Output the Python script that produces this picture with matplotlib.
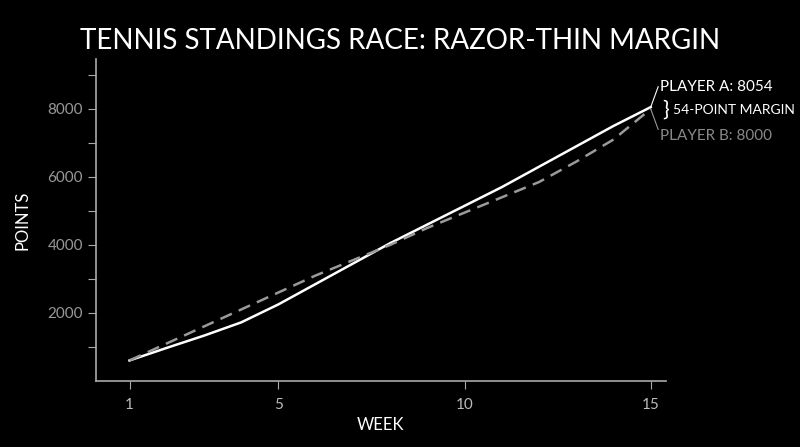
import matplotlib
matplotlib.use('Agg')
import matplotlib.pyplot as plt

plt.rcParams['font.family'] = ['Lato', 'DejaVu Sans']

weeks = list(range(1, 16))
player_a = [600, 970, 1330, 1720, 2250, 2850, 3450, 4050, 4600, 5150, 5700, 6300, 6900, 7500, 8054]
player_b = [600, 1100, 1600, 2100, 2600, 3100, 3550, 4000, 4500, 4950, 5400, 5850, 6450, 7100, 8000]
x_ticks = [1, 5, 10, 15]
y_ticks = [2000, 4000, 6000, 8000]

fig = plt.figure(figsize=(8, 4.47), dpi=100, facecolor='black')
ax = fig.add_axes([0.12, 0.148, 0.712, 0.72], facecolor='black')

ax.plot(weeks, player_a, color='white', lw=1.8)
ax.plot(weeks, player_b, color='#9a9a9a', lw=1.8, ls=(0, (5, 3)))

ax.set_xlim(0.1, 15.4)
ax.set_ylim(0, 9470)
ax.set_xticks(x_ticks)
ax.set_yticks(y_ticks)
ax.set_yticks(range(1000, 9001, 1000), minor=True)
ax.tick_params(colors='#aaaaaa', labelsize=11, length=6, width=0.8, direction='out')
ax.tick_params(axis='y', which='minor', colors='#aaaaaa', length=6, width=0.8)
ax.tick_params(axis='y', which='major', labelcolor='#999999')
ax.tick_params(axis='x', labelcolor='#bbbbbb', pad=6)
for s in ['top', 'right']:
    ax.spines[s].set_visible(False)
for s in ['left', 'bottom']:
    ax.spines[s].set_color('#aaaaaa')
    ax.spines[s].set_linewidth(1.2)

ax.set_xlabel('WEEK', color='white', fontsize=12, labelpad=4)
ax.set_ylabel('POINTS', color='white', fontsize=12, labelpad=12)
fig.text(0.5, 0.89, 'TENNIS STANDINGS RACE: RAZOR-THIN MARGIN', color='white',
         fontsize=20, ha='center')

end_a = player_a[-1]
end_b = player_b[-1]
ax.plot([weeks[-1], weeks[-1] + 0.2], [end_a, end_a + 600], color='white', lw=0.8, clip_on=False)
ax.plot([weeks[-1], weeks[-1] + 0.2], [end_b, end_b - 600], color='#999999', lw=0.8, clip_on=False)
ax.text(weeks[-1] + 0.25, end_a + 600, f'PLAYER A: {end_a}', color='white', fontsize=11,
        va='center', clip_on=False)
ax.text(weeks[-1] + 0.25, end_b - 800, f'PLAYER B: {end_b}', color='#888888', fontsize=11,
        va='center', clip_on=False)
ax.text(weeks[-1] + 0.3, (end_a + end_b) / 2 - 60, '}', color='white', fontsize=16,
        va='center', clip_on=False)
ax.text(weeks[-1] + 0.6, (end_a + end_b) / 2 - 60, f'{end_a - end_b}-POINT MARGIN', color='white',
        fontsize=10, va='center', clip_on=False)

fig.savefig('out.png', facecolor='black')
